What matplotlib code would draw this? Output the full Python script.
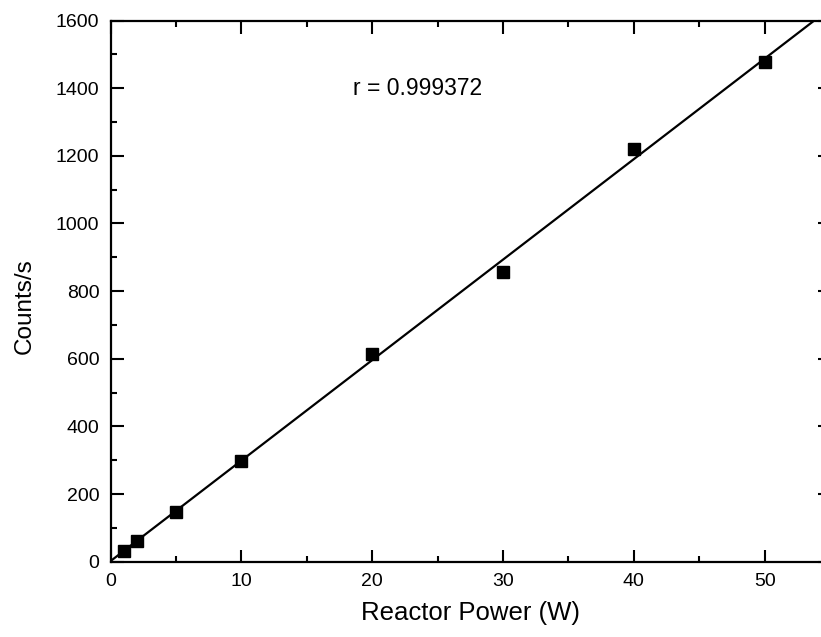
import numpy as np
import matplotlib
matplotlib.use("Agg")
import matplotlib.pyplot as plt
from matplotlib.ticker import MultipleLocator

# reactor power (W) and measured count rate (counts/s)
power = [1, 2, 5, 10, 20, 30, 40, 50]
counts = [32, 61, 148, 298, 614, 857, 1220, 1478]
r_label = "r = 0.999372"

plt.rcParams["font.family"] = ["Liberation Sans", "DejaVu Sans"]

fig = plt.figure(figsize=(8.21, 6.37), dpi=100)
ax = fig.add_axes([0.1346, 0.1182, 0.8764, 0.8496])

# linear fit through the points
slope, intercept = np.polyfit(power, counts, 1)
fit_x = np.array([0, 55])
ax.plot(fit_x, slope * fit_x + intercept, color="black", lw=1.6)
ax.plot(power, counts, "s", color="black", markersize=8)

ax.set_xlim(0, 55)
ax.set_ylim(0, 1600)
ax.xaxis.set_major_locator(MultipleLocator(10))
ax.xaxis.set_minor_locator(MultipleLocator(5))
ax.yaxis.set_major_locator(MultipleLocator(200))
ax.yaxis.set_minor_locator(MultipleLocator(100))
ax.tick_params(which="both", direction="in", top=True, right=True, width=1.5, labelsize=14)
ax.tick_params(which="major", length=9, pad=8)
ax.tick_params(which="minor", length=4.5)
for s in ax.spines.values():
    s.set_linewidth(1.6)

ax.set_xlabel("Reactor Power (W)", fontsize=18.5, labelpad=8)
ax.set_ylabel("Counts/s", fontsize=17.5)
# label sits a little below the middle of the axis in the original
ax.yaxis.set_label_coords(-0.104, 0.473)
ax.text(18.5, 1400, r_label, fontsize=16.5, va="center")

fig.savefig("out.png", dpi=100)
